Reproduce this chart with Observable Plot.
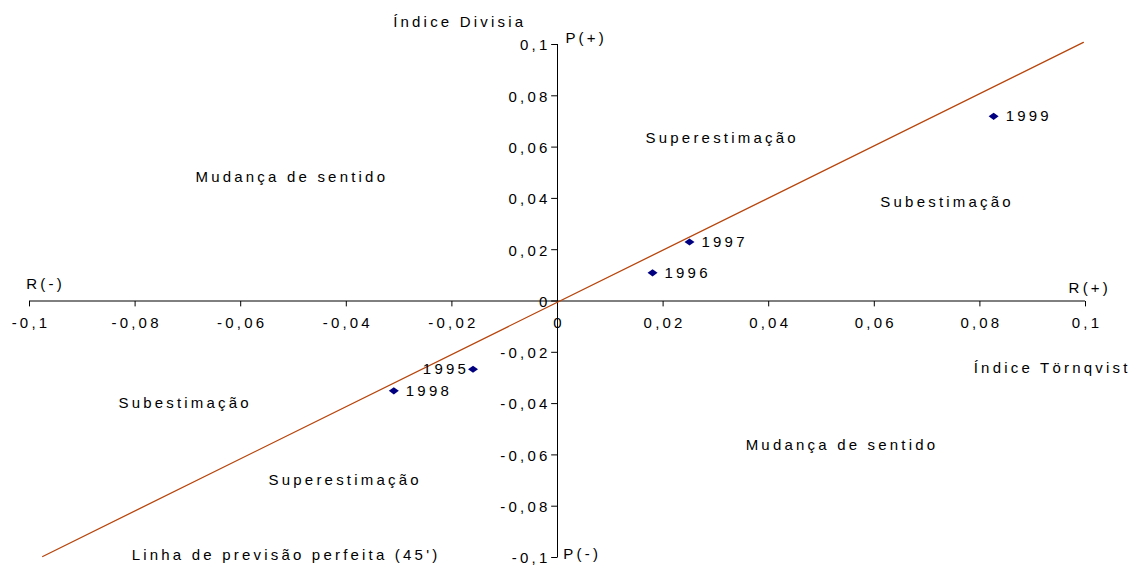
<!DOCTYPE html>
<html>
<head>
<meta charset="utf-8">
<script src="https://cdn.jsdelivr.net/npm/d3@7"></script>
<script src="https://cdn.jsdelivr.net/npm/@observablehq/plot@0.6"></script>
<style>
  html, body { margin: 0; padding: 0; background: #fff; }
  svg text { letter-spacing: 3.2px; }
</style>
</head>
<body>
<div id="chart"></div>
<script>
// Data
const years = ["1995", "1996", "1997", "1998", "1999"];
const tornqvist = [-0.016, 0.018, 0.025, -0.031, 0.0826];
const divisia = [-0.0266, 0.011, 0.023, -0.035, 0.072];

const xTicks = [-0.1, -0.08, -0.06, -0.04, -0.02, 0, 0.02, 0.04, 0.06, 0.08, 0.1];
const xTickLabels = ["-0,1", "-0,08", "-0,06", "-0,04", "-0,02", "0", "0,02", "0,04", "0,06", "0,08", "0,1"];
const yTicks = [-0.1, -0.08, -0.06, -0.04, -0.02, 0, 0.02, 0.04, 0.06, 0.08, 0.1];
const yTickLabels = ["-0,1", "-0,08", "-0,06", "-0,04", "-0,02", "0", "0,02", "0,04", "0,06", "0,08", "0,1"];

// perfect-forecast 45° line endpoints
const lineX = [-0.0975, 0.0996];
const lineY = [-0.0996, 0.1008];

// annotation texts and their positions (data coordinates)
const noteText = ["Índice Divisia", "Mudança de sentido", "Superestimação", "Subestimação",
  "Índice Törnqvist", "Subestimação", "Mudança de sentido", "Superestimação",
  "Linha de previsão perfeita (45')"];
const noteX = [-0.0188, -0.0506, 0.0309, 0.0735, 0.0934, -0.0708, 0.0536, -0.0405, -0.0517];
const noteY = [0.1086, 0.0484, 0.0633, 0.0387, -0.0262, -0.0398, -0.0563, -0.0699, -0.0992];

const axisNoteText = ["P(+)", "P(-)", "R(-)", "R(+)"];
const axisNoteX = [0.0015, 0.0011, -0.1006, 0.0968];
const axisNoteY = [0.1023, -0.0988, 0.0064, 0.0051];

const points = years.map((y, i) => ({year: y, x: tornqvist[i], y: divisia[i]}));
const xt = xTicks.map((v, i) => ({v, label: xTickLabels[i]}));
const yt = yTicks.map((v, i) => ({v, label: yTickLabels[i]}));
const notes = noteText.map((t, i) => ({t, x: noteX[i], y: noteY[i]}));
const axisNotes = axisNoteText.map((t, i) => ({t, x: axisNoteX[i], y: axisNoteY[i]}));
const line45 = lineX.map((x, i) => ({x, y: lineY[i]}));

const diamond = {
  draw(ctx) {
    ctx.moveTo(-5, 0); ctx.lineTo(0, -3.6); ctx.lineTo(5, 0); ctx.lineTo(0, 3.6); ctx.closePath();
  }
};

const font = "'Liberation Sans', Arial, sans-serif";

const chart = Plot.plot({
  width: 1131,
  height: 565,
  margin: 0,
  style: {fontFamily: font, fontSize: "15px", color: "#000", background: "#fff"},
  x: {domain: [-0.1, 0.1], range: [29, 1085], axis: null},
  y: {domain: [-0.1, 0.1], range: [557, 44], axis: null},
  marks: [
    // axis lines
    Plot.ruleY([0], {x1: -0.1, x2: 0.1, stroke: "#000", strokeWidth: 1}),
    Plot.ruleX([0], {y1: -0.1, y2: 0.1, stroke: "#000", strokeWidth: 1}),
    // x ticks
    Plot.link(xt, {x1: "v", x2: "v", y1: 0, y2: -0.0021, stroke: "#000", strokeWidth: 1}),
    // y ticks
    Plot.link(yt, {y1: "v", y2: "v", x1: 0, x2: -0.0012, stroke: "#000", strokeWidth: 1}),
    // tick labels
    Plot.text(xt, {x: "v", y: 0, text: "label", dy: 22, dx: 1.5, fontSize: 15, fontFamily: font, fill: "#000"}),
    Plot.text(yt, {x: 0, y: "v", text: "label", dx: -7, dy: 1, textAnchor: "end", fontSize: 15, fontFamily: font, fill: "#000"}),
    // 45 degree line
    Plot.line(line45, {x: "x", y: "y", stroke: "#b8450c", strokeWidth: 1.3}),
    // points
    Plot.dot(points, {x: "x", y: "y", symbol: diamond, fill: "#000080", stroke: "none", r: 4}),
    Plot.text(points.filter(d => d.year !== "1995"), {x: "x", y: "y", text: "year", dx: 12, textAnchor: "start", fontSize: 15, fontFamily: font, fill: "#000"}),
    Plot.text(points.filter(d => d.year === "1995"), {x: "x", y: "y", text: "year", dx: -4, textAnchor: "end", fontSize: 15, fontFamily: font, fill: "#000"}),
    // annotations
    Plot.text(notes, {x: "x", y: "y", text: "t", dx: 1.5, fontSize: 15, fontFamily: font, fill: "#000"}),
    Plot.text(axisNotes, {x: "x", y: "y", text: "t", textAnchor: "start", fontSize: 15, fontFamily: font, fill: "#000"})
  ]
});

document.getElementById("chart").appendChild(chart);
</script>
</body>
</html>
